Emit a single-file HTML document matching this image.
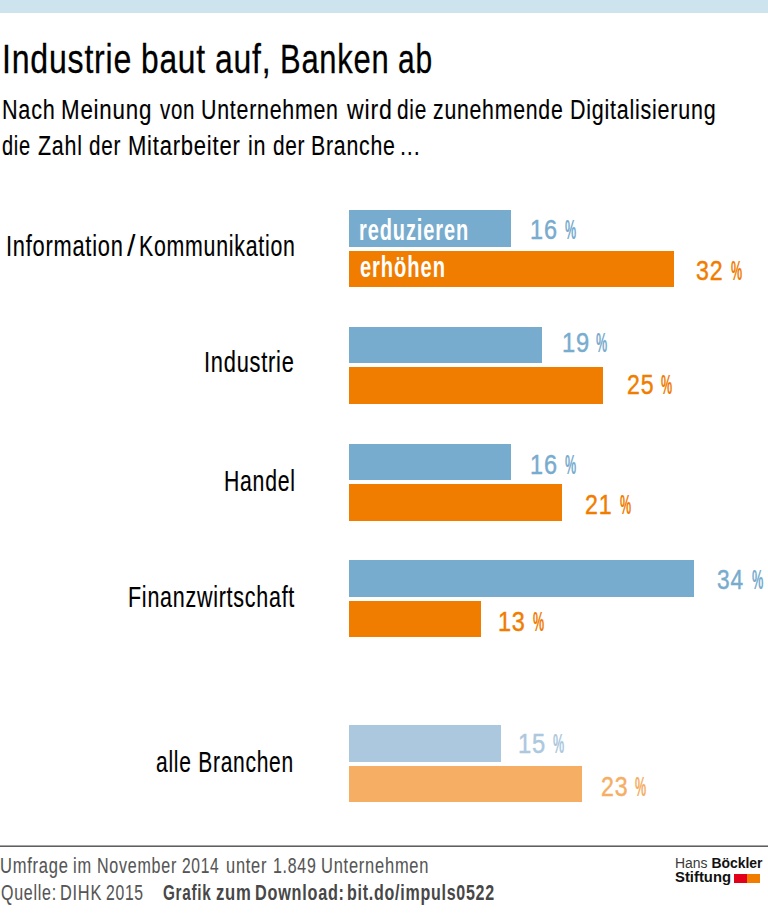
<!DOCTYPE html>
<html lang="de"><head><meta charset="utf-8"><title>Industrie baut auf, Banken ab</title>
<style>
html,body{margin:0;padding:0;background:#fff;}
body{width:768px;height:920px;position:relative;overflow:hidden;font-family:"Liberation Sans",Arial,sans-serif;}
.top{position:absolute;left:0;top:0;width:768px;height:12.5px;background:#cde4ee;}
.ln{position:absolute;left:0;font-size:0;line-height:0;white-space:nowrap;}
.t{display:inline-block;width:0;vertical-align:baseline;white-space:pre;line-height:1;transform-origin:0 0;letter-spacing:1.0px;-webkit-text-stroke:0.15px currentColor;}
#logo1,#logo2{letter-spacing:0;}
.b{position:absolute;left:349px;height:36.5px;}
#logo1,#logo2{-webkit-text-stroke:0;}
#in1,#in2{letter-spacing:1.3px;}
[id^=title_]{-webkit-text-stroke:0.3px currentColor;}
#in1,#in2,[id^=f3_]{-webkit-text-stroke:0px currentColor;}
[id^=f1_],[id^=f2_]{-webkit-text-stroke:0.1px currentColor;}
.d{letter-spacing:1px;-webkit-text-stroke:0.45px currentColor;}
.rule{position:absolute;left:0;top:845px;width:768px;height:2px;background:linear-gradient(#a3a3a3 50%,#5f5f5f 50%);}
#lab1_1{-webkit-text-stroke:0;}
.sq{position:absolute;top:874px;height:8.5px;}
</style></head><body>
<div class="top"></div>
<div class="b" style="top:210.0px;width:162.4px;background:#78acce"></div>
<div class="b" style="top:250.5px;width:324.7px;background:#f07d00"></div>
<div class="b" style="top:326.8px;width:192.8px;background:#78acce"></div>
<div class="b" style="top:367.3px;width:253.7px;background:#f07d00"></div>
<div class="b" style="top:443.8px;width:162.4px;background:#78acce"></div>
<div class="b" style="top:484.3px;width:213.1px;background:#f07d00"></div>
<div class="b" style="top:560.0px;width:345.0px;background:#78acce"></div>
<div class="b" style="top:600.5px;width:131.9px;background:#f07d00"></div>
<div class="b" style="top:725.3px;width:152.2px;background:#acc8de"></div>
<div class="b" style="top:765.8px;width:233.4px;background:#f5ae64"></div>
<div class="ln" style="top:39.01px"><span id="title_0" class="t" style="margin-left:1.69px;font-size:40.84px;font-weight:400;color:#000000;transform:scaleX(0.7855)">Industrie</span> <span id="title_1" class="t" style="margin-left:139.52px;font-size:40.84px;font-weight:400;color:#000000;transform:scaleX(0.7764)">baut</span> <span id="title_2" class="t" style="margin-left:73.55px;font-size:40.84px;font-weight:400;color:#000000;transform:scaleX(0.7812)">auf,</span> <span id="title_3" class="t" style="margin-left:65.12px;font-size:40.84px;font-weight:400;color:#000000;transform:scaleX(0.7573)">Banken</span> <span id="title_4" class="t" style="margin-left:117.71px;font-size:40.84px;font-weight:400;color:#000000;transform:scaleX(0.7337)">ab</span></div>
<div class="ln" style="top:94.61px"><span id="sub1_0" class="t" style="margin-left:1.50px;font-size:28.20px;font-weight:400;color:#000000;transform:scaleX(0.7662)">Nach</span> <span id="sub1_1" class="t" style="margin-left:59.03px;font-size:28.20px;font-weight:400;color:#000000;transform:scaleX(0.7923)">Meinung</span> <span id="sub1_2" class="t" style="margin-left:99.14px;font-size:28.20px;font-weight:400;color:#000000;transform:scaleX(0.7274)">von</span> <span id="sub1_3" class="t" style="margin-left:41.26px;font-size:28.20px;font-weight:400;color:#000000;transform:scaleX(0.7575)">Unternehmen</span> <span id="sub1_4" class="t" style="margin-left:145.68px;font-size:28.20px;font-weight:400;color:#000000;transform:scaleX(0.8187)">wird</span> <span id="sub1_5" class="t" style="margin-left:50.67px;font-size:28.20px;font-weight:400;color:#000000;transform:scaleX(0.7388)">die</span> <span id="sub1_6" class="t" style="margin-left:36.24px;font-size:28.20px;font-weight:400;color:#000000;transform:scaleX(0.7542)">zunehmende</span> <span id="sub1_7" class="t" style="margin-left:136.41px;font-size:28.20px;font-weight:400;color:#000000;transform:scaleX(0.7622)">Digitalisierung</span></div>
<div class="ln" style="top:131.31px"><span id="sub2_0" class="t" style="margin-left:2.24px;font-size:28.20px;font-weight:400;color:#000000;transform:scaleX(0.7087)">die</span> <span id="sub2_1" class="t" style="margin-left:35.69px;font-size:28.20px;font-weight:400;color:#000000;transform:scaleX(0.7595)">Zahl</span> <span id="sub2_2" class="t" style="margin-left:51.43px;font-size:28.20px;font-weight:400;color:#000000;transform:scaleX(0.7318)">der</span> <span id="sub2_3" class="t" style="margin-left:39.11px;font-size:28.20px;font-weight:400;color:#000000;transform:scaleX(0.7807)">Mitarbeiter</span> <span id="sub2_4" class="t" style="margin-left:119.23px;font-size:28.20px;font-weight:400;color:#000000;transform:scaleX(0.7639)">in</span> <span id="sub2_5" class="t" style="margin-left:25.19px;font-size:28.20px;font-weight:400;color:#000000;transform:scaleX(0.7378)">der</span> <span id="sub2_6" class="t" style="margin-left:38.19px;font-size:28.20px;font-weight:400;color:#000000;transform:scaleX(0.7562)">Branche</span> <span id="sub2_7" class="t" style="margin-left:89.10px;font-size:28.20px;font-weight:400;color:#000000;transform:scaleX(0.7716)">...</span></div>
<div class="ln" style="top:232.40px"><span id="lab1_0" class="t" style="margin-left:6.17px;font-size:28.63px;font-weight:400;color:#000000;transform:scaleX(0.7629)">Information</span> <span id="lab1_1" class="t" style="margin-left:120.40px;font-size:28.63px;font-weight:400;color:#000000;transform:scaleX(1.0627)">/</span> <span id="lab1_2" class="t" style="margin-left:11.96px;font-size:28.63px;font-weight:400;color:#000000;transform:scaleX(0.7447)">Kommunikation</span></div>
<div class="ln" style="top:347.81px"><span id="lab2" class="t" style="margin-left:204.49px;font-size:28.63px;font-weight:400;color:#000000;transform:scaleX(0.7626)">Industrie</span></div>
<div class="ln" style="top:466.61px"><span id="lab3" class="t" style="margin-left:223.76px;font-size:28.63px;font-weight:400;color:#000000;transform:scaleX(0.7413)">Handel</span></div>
<div class="ln" style="top:582.81px"><span id="lab4" class="t" style="margin-left:128.46px;font-size:28.63px;font-weight:400;color:#000000;transform:scaleX(0.7498)">Finanzwirtschaft</span></div>
<div class="ln" style="top:748.01px"><span id="lab5" class="t" style="margin-left:155.92px;font-size:28.63px;font-weight:400;color:#000000;transform:scaleX(0.7333)">alle Branchen</span></div>
<div class="ln" style="top:215.82px"><span id="in1" class="t" style="margin-left:359.43px;font-size:28.69px;font-weight:700;color:#ffffff;transform:scaleX(0.6969)">reduzieren</span></div>
<div class="ln" style="top:252.82px"><span id="in2" class="t" style="margin-left:360.39px;font-size:28.69px;font-weight:700;color:#ffffff;transform:scaleX(0.7021)">erhöhen</span></div>
<div class="ln" style="top:214.60px"><span id="p1d" class="t d" style="margin-left:529.70px;font-size:28.34px;font-weight:400;color:#78acce;transform:scaleX(0.8283)">16</span> <span id="p1p" class="t" style="margin-left:35.37px;font-size:28.34px;font-weight:700;color:#78acce;transform:scaleX(0.4436)">%</span></div>
<div class="ln" style="top:256.10px"><span id="p2d" class="t d" style="margin-left:696.14px;font-size:28.34px;font-weight:400;color:#f07d00;transform:scaleX(0.8183)">32</span> <span id="p2p" class="t" style="margin-left:34.93px;font-size:28.34px;font-weight:700;color:#f07d00;transform:scaleX(0.4436)">%</span></div>
<div class="ln" style="top:328.22px"><span id="p3d" class="t d" style="margin-left:561.83px;font-size:28.34px;font-weight:400;color:#78acce;transform:scaleX(0.8382)">19</span> <span id="p3p" class="t" style="margin-left:34.48px;font-size:28.34px;font-weight:700;color:#78acce;transform:scaleX(0.4436)">%</span></div>
<div class="ln" style="top:370.41px"><span id="p4d" class="t d" style="margin-left:626.89px;font-size:28.34px;font-weight:400;color:#f07d00;transform:scaleX(0.8145)">25</span> <span id="p4p" class="t" style="margin-left:34.42px;font-size:28.34px;font-weight:700;color:#f07d00;transform:scaleX(0.4436)">%</span></div>
<div class="ln" style="top:450.31px"><span id="p5d" class="t d" style="margin-left:529.70px;font-size:28.34px;font-weight:400;color:#78acce;transform:scaleX(0.8283)">16</span> <span id="p5p" class="t" style="margin-left:35.36px;font-size:28.34px;font-weight:700;color:#78acce;transform:scaleX(0.4436)">%</span></div>
<div class="ln" style="top:489.81px"><span id="p6d" class="t d" style="margin-left:584.59px;font-size:28.34px;font-weight:400;color:#f07d00;transform:scaleX(0.8188)">21</span> <span id="p6p" class="t" style="margin-left:35.22px;font-size:28.34px;font-weight:700;color:#f07d00;transform:scaleX(0.4436)">%</span></div>
<div class="ln" style="top:565.01px"><span id="p7d" class="t d" style="margin-left:717.03px;font-size:28.34px;font-weight:400;color:#78acce;transform:scaleX(0.8013)">34</span> <span id="p7p" class="t" style="margin-left:35.18px;font-size:28.34px;font-weight:700;color:#78acce;transform:scaleX(0.4507)">%</span></div>
<div class="ln" style="top:606.81px"><span id="p8d" class="t d" style="margin-left:497.64px;font-size:28.34px;font-weight:400;color:#f07d00;transform:scaleX(0.8281)">13</span> <span id="p8p" class="t" style="margin-left:35.42px;font-size:28.34px;font-weight:700;color:#f07d00;transform:scaleX(0.4436)">%</span></div>
<div class="ln" style="top:728.81px"><span id="p9d" class="t d" style="margin-left:518.30px;font-size:28.34px;font-weight:400;color:#acc8de;transform:scaleX(0.8372)">15</span> <span id="p9p" class="t" style="margin-left:34.94px;font-size:28.34px;font-weight:700;color:#acc8de;transform:scaleX(0.4436)">%</span></div>
<div class="ln" style="top:772.01px"><span id="p10d" class="t d" style="margin-left:601.10px;font-size:28.34px;font-weight:400;color:#f5ae64;transform:scaleX(0.8172)">23</span> <span id="p10p" class="t" style="margin-left:34.36px;font-size:28.34px;font-weight:700;color:#f5ae64;transform:scaleX(0.4436)">%</span></div>
<div class="ln" style="top:855.70px"><span id="f1_0" class="t" style="margin-left:-0.07px;font-size:21.51px;font-weight:400;color:#555555;transform:scaleX(0.7671)">Umfrage</span> <span id="f1_1" class="t" style="margin-left:73.48px;font-size:21.51px;font-weight:400;color:#555555;transform:scaleX(0.7616)">im</span> <span id="f1_2" class="t" style="margin-left:24.03px;font-size:21.51px;font-weight:400;color:#555555;transform:scaleX(0.7464)">November</span> <span id="f1_3" class="t" style="margin-left:85.02px;font-size:21.51px;font-weight:400;color:#555555;transform:scaleX(0.7230)">2014</span> <span id="f1_4" class="t" style="margin-left:43.70px;font-size:21.51px;font-weight:400;color:#555555;transform:scaleX(0.7626)">unter</span> <span id="f1_5" class="t" style="margin-left:47.31px;font-size:21.51px;font-weight:400;color:#555555;transform:scaleX(0.7394)">1.849</span> <span id="f1_6" class="t" style="margin-left:47.57px;font-size:21.51px;font-weight:400;color:#555555;transform:scaleX(0.7660)">Unternehmen</span></div>
<div class="ln" style="top:883.31px"><span id="f2_0" class="t" style="margin-left:0.91px;font-size:21.51px;font-weight:400;color:#555555;transform:scaleX(0.7431)">Quelle:</span> <span id="f2_1" class="t" style="margin-left:59.03px;font-size:21.51px;font-weight:400;color:#555555;transform:scaleX(0.7594)">DIHK</span> <span id="f2_2" class="t" style="margin-left:46.47px;font-size:21.51px;font-weight:400;color:#555555;transform:scaleX(0.7293)">2015</span></div>
<div class="ln" style="top:883.11px"><span id="f3_0" class="t" style="margin-left:163.22px;font-size:21.51px;font-weight:700;color:#474747;transform:scaleX(0.7112)">Grafik</span> <span id="f3_1" class="t" style="margin-left:52.72px;font-size:21.51px;font-weight:700;color:#474747;transform:scaleX(0.7750)">zum</span> <span id="f3_2" class="t" style="margin-left:38.72px;font-size:21.51px;font-weight:700;color:#474747;transform:scaleX(0.7553)">Download:</span> <span id="f3_3" class="t" style="margin-left:92.22px;font-size:21.51px;font-weight:700;color:#474747;transform:scaleX(0.7447)">bit.do/impuls0522</span></div>
<div class="ln" style="top:855.82px"><span id="logo1" class="t" style="margin-left:675.46px;font-size:14.53px;font-weight:400;color:#3a3a3a;transform:scaleX(0.9602)">Hans <b style="color:#111">Böckler</b></span></div>
<div class="ln" style="top:870.20px"><span id="logo2" class="t" style="margin-left:674.78px;font-size:14.53px;font-weight:700;color:#111111;transform:scaleX(1.0214)">Stiftung</span></div>
<div class="rule"></div>
<div class="sq" style="left:734px;width:13px;background:#e2001a"></div>
<div class="sq" style="left:747px;width:13px;background:#f07d00"></div>
</body></html>
